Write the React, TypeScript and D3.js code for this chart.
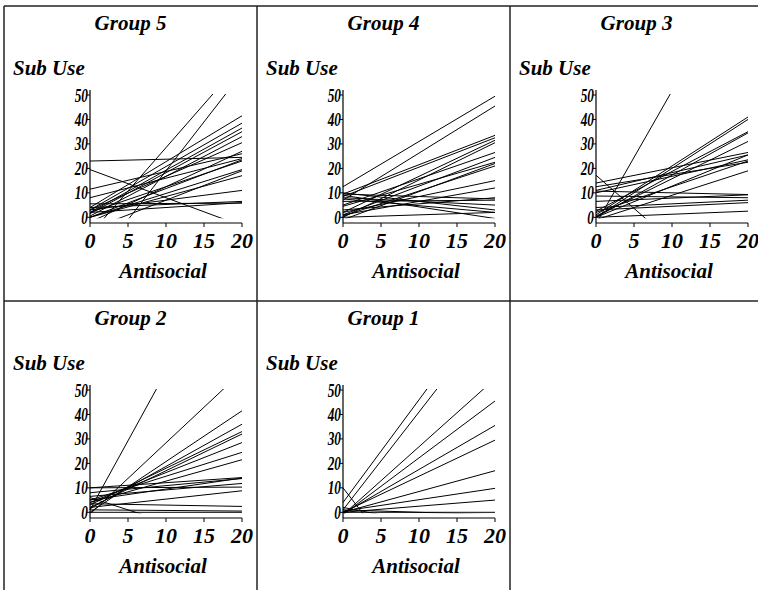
import React from 'react';
import * as d3 from 'd3';

// one panel per group, each line is a subject's fitted line:
// value of Sub Use at Antisocial = 0 and at Antisocial = 20
const groupNames = ['Group 5', 'Group 4', 'Group 3', 'Group 2', 'Group 1'];

const group5Start = [-7, -21, 23, 19.5, 11.5, 8, 5.5, 4, 3, 2, 1.5, 0.5, 3, 0, 2, 0, -5, 0, 3, 4, 2, -2];
const group5End = [64, 59, 24.5, -3.5, 26, 24, 5.8, 41.5, 38.5, 36.5, 35, 33, 30.5, 23.5, 23, 19.5, 19, 17, 11, 6.5, 6, 27];

const group4Start = [12.5, 7, 9.5, 8.5, 2, 0, 5, 1, -1, 0.5, 2, 1, 9.5, 8, 10, 6.5, 9, 3, 0, 4.5, 7.5];
const group4End = [49.5, 45.5, 33.5, 32.5, 31.5, 30.5, 26.5, 24.5, 22, 21, 15, 12, 7.5, 5, 3, 7, -0.5, 8, 2, 22.5, 2];

const group3Start = [-2.7, 17.2, 1, 0, 2.5, 0, 0.5, 14, 11, 10, 12.5, -1, 10.7, 8.7, 4, 3, 0, 2, 0, 6.5];
const group3End = [106, -37, 41, 40, 35, 34.5, 31, 26.5, 25.5, 23.5, 22.5, 19, 9.3, 8, 7, 6, 2.5, 23, 25.5, 9.2];

const group2Start = [1, -0.7, 0, 1.5, 3, 2, 4, 5, 4, 10, 8, 6.5, 2, 3.5, 0, 6, 10, 1, 5];
const group2End = [114, 57.5, 41.5, 36, 33, 32, 28.5, 24.5, 21.5, 14.2, 13.8, 11.8, 8.8, 2.4, 0, -14, 10.3, 0.5, 14];

const group1Start = [4, 1, -1, -1, -0.5, 0, 0, 0.5, 0, 0, 10, 1, 2];
const group1End = [88, 81, 54.6, 45.5, 35.5, 29.5, 17, 9.8, 5, 0, -70, -1, -10];

const groupStarts = [group5Start, group4Start, group3Start, group2Start, group1Start];
const groupEnds = [group5End, group4End, group3End, group2End, group1End];

const xTicks = [0, 5, 10, 15, 20];
const yTicks = [0, 10, 20, 30, 40, 50];

const panelW = 253;
const panelH = 295;
const left = 4;
const top = 6;
const font = '"Liberation Serif", "Times New Roman", serif';

function Panel({ index }: { index: number }) {
  const col = index % 3;
  const row = Math.floor(index / 3);
  const px = left + col * panelW;
  const py = top + row * panelH;

  const x = d3.scaleLinear().domain([0, 20]).range([86, 238]);
  const y = d3.scaleLinear().domain([0, 50]).range([211.3, 89]);
  const line = d3.line<[number, number]>().x(d => x(d[0])).y(d => y(d[1]));

  const starts = groupStarts[index];
  const ends = groupEnds[index];
  const clipId = `clip-${index}`;
  const axisY = 217;

  return (
    <g transform={`translate(${px},${py})`}>
      <defs>
        <clipPath id={clipId}>
          <rect x={x(0) - 1} y={y(50) - 1} width={x(20) - x(0) + 2} height={y(0) - y(50) + 2} />
        </clipPath>
      </defs>
      <text x={panelW / 2} y={24} textAnchor="middle" fontFamily={font} fontStyle="italic"
        fontWeight="bold" fontSize={21}>{groupNames[index]}</text>
      <text x={9} y={69} fontFamily={font} fontStyle="italic" fontWeight="bold" fontSize={21}>Sub Use</text>

      <g clipPath={`url(#${clipId})`}>
        {starts.map((s, i) => (
          <path key={i} d={line([[0, s], [20, ends[i]]]) || ''} fill="none" stroke="#000" strokeWidth={1} />
        ))}
      </g>

      {/* y axis */}
      <line x1={x(0)} x2={x(0)} y1={84} y2={axisY} stroke="#000" strokeWidth={1.2} />
      {yTicks.map(t => (
        <g key={t}>
          <line x1={x(0) - 3} x2={x(0)} y1={y(t)} y2={y(t)} stroke="#000" />
          <text transform={`translate(${x(0) - 2},${y(t) + 6.5}) scale(0.7,1)`} textAnchor="end"
            fontFamily={font} fontStyle="italic" fontWeight="bold" fontSize={19}>{t}</text>
        </g>
      ))}

      {/* x axis */}
      <line x1={x(0)} x2={x(20)} y1={axisY} y2={axisY} stroke="#000" strokeWidth={1.2} />
      {xTicks.map(t => (
        <g key={t}>
          <line x1={x(t)} x2={x(t)} y1={axisY} y2={axisY + 4} stroke="#000" />
          <text x={x(t)} y={242} textAnchor="middle" fontFamily={font} fontStyle="italic"
            fontWeight="bold" fontSize={22}>{t}</text>
        </g>
      ))}
      <text x={(x(0) + x(20)) / 2 - 3} y={272} textAnchor="middle" fontFamily={font} fontStyle="italic"
        fontWeight="bold" fontSize={21}>Antisocial</text>
    </g>
  );
}

export default function App() {
  const width = 758;
  const height = 590;
  return (
    <svg width={width} height={height} style={{ position: 'absolute', left: 0, top: 0, background: '#fff' }}>
      <rect width={width} height={height} fill="#fff" />
      {groupNames.map((g, i) => <Panel key={g} index={i} />)}
      {/* frame and dividers */}
      <line x1={left} x2={width} y1={top} y2={top} stroke="#222" strokeWidth={1.5} />
      <line x1={left} x2={width} y1={top + panelH} y2={top + panelH} stroke="#222" strokeWidth={1.5} />
      <line x1={left} x2={left} y1={top} y2={height} stroke="#222" strokeWidth={1.5} />
      <line x1={left + panelW} x2={left + panelW} y1={top} y2={height} stroke="#222" strokeWidth={1.5} />
      <line x1={left + 2 * panelW} x2={left + 2 * panelW} y1={top} y2={height} stroke="#222" strokeWidth={1.5} />
    </svg>
  );
}
